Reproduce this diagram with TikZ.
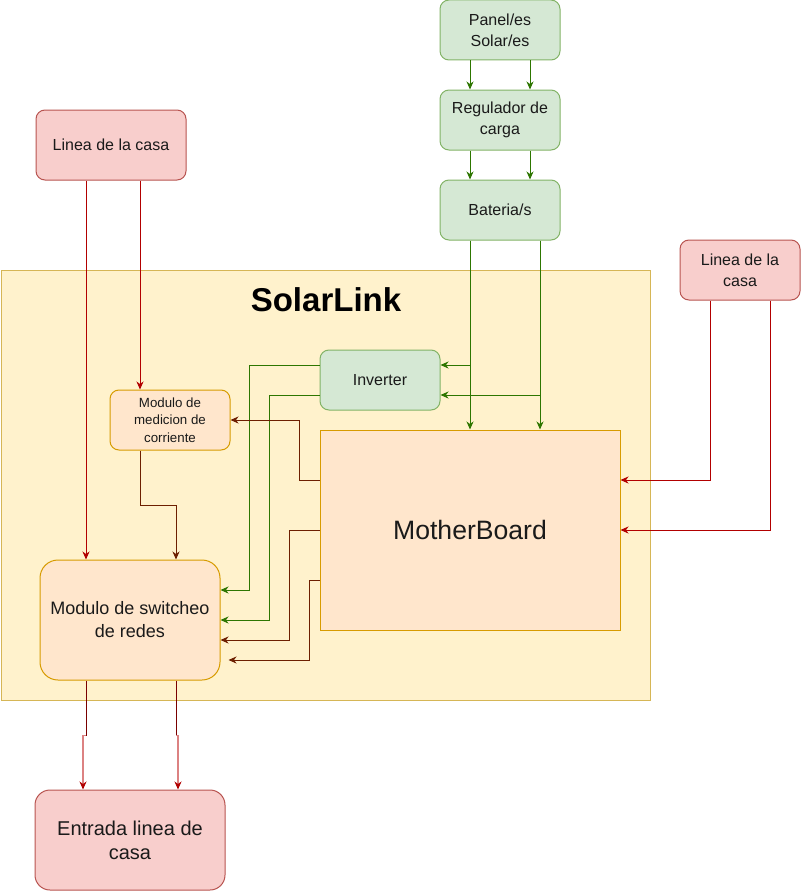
\documentclass[tikz,border=0pt]{standalone}
\usepackage{fontspec}
\setmainfont{Liberation Sans}
\usetikzlibrary{arrows.meta,calc}
\definecolor{gfill}{HTML}{D5E8D4}
\definecolor{gline}{HTML}{82B366}
\definecolor{rfill}{HTML}{F8CECC}
\definecolor{rline}{HTML}{B85450}
\definecolor{ofill}{HTML}{FFE6CC}
\definecolor{oline}{HTML}{D79B00}
\definecolor{yfill}{HTML}{FFF2CC}
\definecolor{yline}{HTML}{D6B656}
\definecolor{cgreen}{HTML}{2D7600}
\definecolor{cred}{HTML}{B20000}
\definecolor{cbrown}{HTML}{6D1F00}
\definecolor{cdark}{HTML}{7A0000}
\definecolor{clight}{HTML}{DC8282}
\definecolor{txt}{HTML}{1A1A1A}
\tikzset{
  base/.style={draw, line width=1pt, inner sep=0pt, align=center, text=txt},
  gbox/.style={base, fill=gfill, draw=gline, rounded corners=9pt, minimum width=120, minimum height=60, font=\fontsize{16}{21}\selectfont},
  rbox/.style={base, fill=rfill, draw=rline, rounded corners=9pt, font=\fontsize{16}{21}\selectfont},
  obox/.style={base, fill=ofill, draw=oline},
  tip/.style={-{Stealth[length=8pt,width=7pt,inset=2.5pt]}},
  garrow/.style={draw=cgreen, line width=1pt, tip},
  rarrow/.style={draw=cred, line width=1pt, tip},
  barrow/.style={draw=cbrown, line width=1pt, tip},
  darkline/.style={draw=cdark, line width=1pt},
  lightarrow/.style={draw=clight, line width=1.2pt, -{Stealth[length=8pt,width=7pt,inset=2.5pt,color=cred]}},
}
\begin{document}
\begin{tikzpicture}[x=1pt,y=-1pt]
\useasboundingbox (0,0) rectangle (801,891);
% container
\node[base, fill=yfill, draw=yline, minimum width=649, minimum height=430] (solar) at (325.5,485) {};
\node[font=\fontsize{33}{36}\selectfont\bfseries, text=black] (title) at (326,300) {SolarLink};
% top chain
\node[gbox] (panel) at (500,30) {Panel/es\\Solar/es};
\node[gbox] (reg) at (500,120) {Regulador de\\carga};
\node[gbox] (bat) at (500,210) {Bateria/s};
% lineas
\node[rbox, minimum width=150, minimum height=70] (lineL) at (111,145) {Linea de la casa};
\node[rbox, minimum width=120, minimum height=60] (lineR) at (740,270) {Linea de la\\casa};
% inside
\node[gbox] (inv) at (380,380) {Inverter};
\node[obox, rounded corners=9pt, minimum width=120, minimum height=60, font=\fontsize{13.3}{17.5}\selectfont] (med) at (170,420) {Modulo de\\medicion de\\corriente};
\node[obox, minimum width=300, minimum height=200, font=\fontsize{26.6}{30}\selectfont] (mb) at (470,530) {MotherBoard};
\node[obox, rounded corners=18pt, minimum width=180, minimum height=120, font=\fontsize{18}{23}\selectfont] (sw) at (130,620) {Modulo de switcheo\\de redes};
\node[rbox, rounded corners=15pt, minimum width=190, minimum height=100, font=\fontsize{20}{24}\selectfont] (ent) at (130,840) {Entrada linea de\\casa};
% top chain arrows
\draw[garrow] ([xshift=-30pt]panel.south) -- ([xshift=-30pt]reg.north);
\draw[garrow] ([xshift=30pt]panel.south) -- ([xshift=30pt]reg.north);
\draw[garrow] ([xshift=-30pt]reg.south) -- ([xshift=-30pt]bat.north);
\draw[garrow] ([xshift=30pt]reg.south) -- ([xshift=30pt]bat.north);
% battery to MB and inverter
\draw[garrow] ([xshift=-30pt]bat.south) -- (mb.north);
\draw[garrow] ([xshift=40pt]bat.south) -- ([xshift=70pt]mb.north);
\draw[garrow] ([xshift=-30pt]bat.south) |- ([yshift=15pt]inv.east);
\draw[garrow] ([xshift=40pt]bat.south) |- ([yshift=-15pt]inv.east);
% inverter to switcheo
\draw[garrow] ([yshift=15pt]inv.west) -- ++(-70,0) |- ([yshift=30pt]sw.east);
\draw[garrow] ([yshift=-15pt]inv.west) -- ++(-50,0) |- (sw.east);
% MB to medicion and switcheo
\draw[barrow] ([yshift=50pt]mb.west) -- ++(-20,0) |- (med.east);
\draw[barrow] (mb.west) -- ++(-30,0) |- ([yshift=-20pt]sw.east);
\draw[barrow] ([yshift=-50pt]mb.west) -- ++(-10,0) |- ([xshift=8pt,yshift=-40pt]sw.east);
% medicion to switcheo
\draw[barrow] ([xshift=-30pt]med.south) -- ++(0,55) -| ([xshift=46pt]sw.north);
% left linea
\draw[rarrow] ([xshift=-25pt]lineL.south) -- ([xshift=-44pt]sw.north);
\draw[rarrow] ([xshift=29pt]lineL.south) -- ([xshift=-30pt]med.north);
% right linea
\draw[rarrow] ([xshift=-30pt]lineR.south) |- ([yshift=50pt]mb.east);
\draw[rarrow] ([xshift=30pt]lineR.south) |- (mb.east);
% switcheo to entrada
\draw[darkline] ([xshift=-44pt]sw.south) -- ++(0,55) coordinate (ja);
\draw[lightarrow] (ja) -- ++(-3,0) -- ([xshift=-47pt]ent.north);
\draw[darkline] ([xshift=46pt]sw.south) -- ++(0,55) coordinate (jb);
\draw[lightarrow] (jb) -- ++(2,0) -- ([xshift=48pt]ent.north);
\end{tikzpicture}
\end{document}
